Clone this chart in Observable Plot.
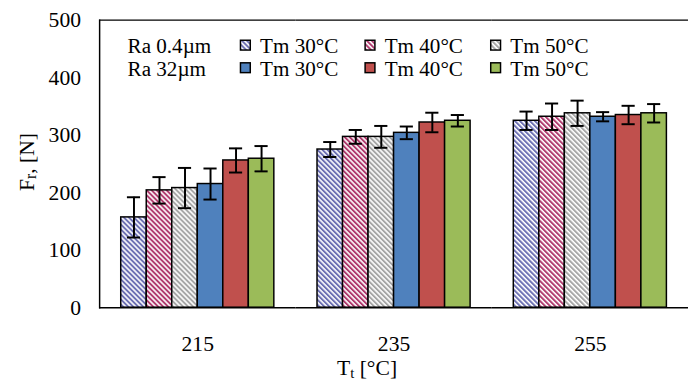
<!DOCTYPE html>
<html><head><meta charset="utf-8">
<script src="https://cdn.jsdelivr.net/npm/d3@7"></script>
<script src="https://cdn.jsdelivr.net/npm/@observablehq/plot@0.6"></script>
<style>
body{margin:0;background:#fff;}
#chart{width:688px;height:387px;overflow:hidden;position:relative;}
#chart svg, #chart svg text, #chart svg tspan{font-family:"Liberation Serif", "Times New Roman", Times, serif;}
</style>
</head><body><div id="chart"></div>
<script>
const groups = ["215", "235", "255"];
const seriesKeys = ["h30", "h40", "h50", "s30", "s40", "s50"];
const seriesLabels = ["Tm 30°C", "Tm 40°C", "Tm 50°C", "Tm 30°C", "Tm 40°C", "Tm 50°C"];
const seriesColors = ["#6d70b3", "#b03a6e", "#a6a6a6", "#4f81bd", "#c0504d", "#9bbb59"];
const seriesHatched = [true, true, true, false, false, false];
const roughnessLabels = ["Ra 0.4\u00b5m", "Ra 32\u00b5m"];
const yTicks = [0, 100, 200, 300, 400, 500];

const values215 = [157, 204, 208, 215, 256, 259];
const values235 = [275, 297, 297, 304, 322, 325];
const values255 = [325, 332, 338, 332, 335, 338];
const errors215 = [35, 23, 35, 27, 21, 22];
const errors235 = [13, 12, 19, 11, 17, 10];
const errors255 = [16, 23, 22, 8, 16, 16];

const valuesByGroup = [values215, values235, values255];
const errorsByGroup = [errors215, errors235, errors255];

const SERIF = "Liberation Serif";
const fillOf = i => seriesHatched[i] ? `url(#hatch${i})` : seriesColors[i];

const data = [];
groups.forEach((g, gi) => seriesKeys.forEach((s, si) => {
  data.push({group: g, series: s, value: valuesByGroup[gi][si], err: errorsByGroup[gi][si], fill: fillOf(si)});
}));

const plot = Plot.plot({
  width: 701,
  height: 387,
  marginLeft: 101,
  marginRight: 0,
  marginTop: 20,
  marginBottom: 74,
  style: {fontFamily: SERIF, fontSize: "22px", color: "black", background: "white"},
  fx: {domain: groups, padding: 0, label: null, tickSize: 0, tickPadding: 29},
  x: {domain: seriesKeys, paddingInner: 0, paddingOuter: 0.75, axis: null},
  y: {domain: [0, 500], ticks: yTicks, tickSize: 0, tickPadding: 19, label: null},
  color: {type: "identity"},
  marks: [
    Plot.barY(data, {fx: "group", x: "series", y: "value", fill: "fill", stroke: "black", strokeWidth: 1.5}),
    Plot.ruleX(data, {fx: "group", x: "series", y1: d => d.value - d.err, y2: d => d.value + d.err, stroke: "black", strokeWidth: 2}),
    Plot.tickY(data, {fx: "group", x: "series", y: d => d.value - d.err, stroke: "black", strokeWidth: 2, insetLeft: 6.3, insetRight: 6.3}),
    Plot.tickY(data, {fx: "group", x: "series", y: d => d.value + d.err, stroke: "black", strokeWidth: 2, insetLeft: 6.3, insetRight: 6.3}),
    Plot.ruleY([0, 500], {stroke: "black", strokeWidth: 1.5}),
    Plot.frame({anchor: "left", facet: "super", stroke: "black", strokeWidth: 1.5})
  ]
});

const svg = d3.select(plot);
svg.attr("font-family", SERIF);
const defs = svg.insert("defs", ":first-child");
seriesKeys.forEach((s, i) => {
  if (!seriesHatched[i]) return;
  const p = defs.append("pattern")
    .attr("id", `hatch${i}`)
    .attr("patternUnits", "userSpaceOnUse")
    .attr("width", 3.6).attr("height", 3.6)
    .attr("patternTransform", "rotate(-45)");
  p.append("rect").attr("width", 3.6).attr("height", 3.6).attr("fill", "white");
  p.append("rect").attr("width", 2).attr("height", 3.6).attr("fill", seriesColors[i]);
});

const addText = (parent, x, y, anchor, size) => parent.append("text")
  .attr("x", x).attr("y", y)
  .attr("text-anchor", anchor)
  .attr("font-family", SERIF)
  .style("font-size", size + "px").style("fill", "black");

// legend
const leg = svg.append("g");
const rowBaseline = [54.5, 77.5];
const colSwatchX = [245, 372, 500];
const colTextX = [265, 392, 520];
roughnessLabels.forEach((t, r) => addText(leg, 130, rowBaseline[r], "start", 21.5).text(t));
seriesKeys.forEach((s, i) => {
  const r = seriesHatched[i] ? 0 : 1;
  const c = i % 3;
  leg.append("rect").attr("x", colSwatchX[c]).attr("y", rowBaseline[r] - 13.5).attr("width", 10).attr("height", 10)
    .attr("fill", fillOf(i)).attr("stroke", "black").attr("stroke-width", 1.5);
  addText(leg, colTextX[c], rowBaseline[r], "start", 21.5).text(seriesLabels[i]);
});

// axis titles
const xl = addText(svg, 374, 382, "middle", 22);
xl.append("tspan").text("T");
xl.append("tspan").style("font-size", "15px").attr("dy", 3).text("t");
xl.append("tspan").attr("dy", -3).text(" [°C]");

const yl = svg.append("text").attr("transform", "translate(27,165) rotate(-90)").attr("dy", "0.35em").attr("text-anchor", "middle")
  .attr("font-family", SERIF).style("font-size", "22px").style("fill", "black");
yl.append("tspan").text("F");
yl.append("tspan").style("font-size", "16px").attr("dy", 2).text("r");
yl.append("tspan").attr("dy", -2).text(", [N]");

document.getElementById("chart").appendChild(plot);
</script>
</body></html>
